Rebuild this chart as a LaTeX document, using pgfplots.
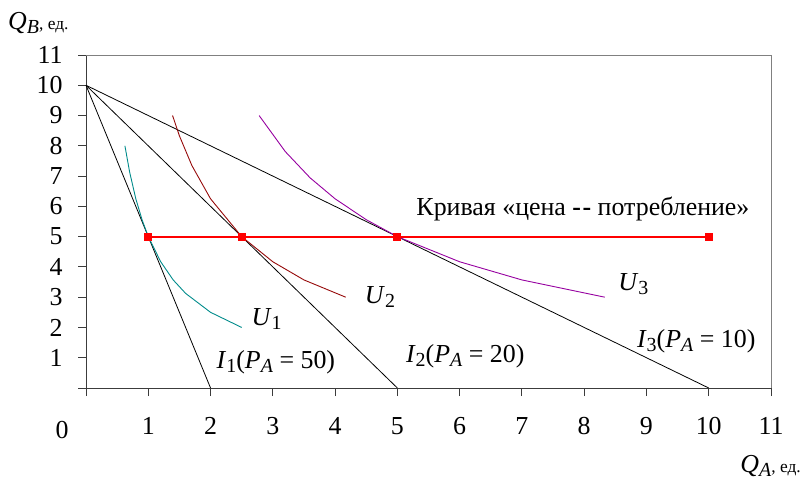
\documentclass[border=0pt]{standalone}
\usepackage{fontspec}
\setmainfont{Liberation Serif}
\usepackage{pgfplots}
\pgfplotsset{compat=1.18}

\definecolor{uone}{RGB}{0,139,139}
\definecolor{utwo}{RGB}{150,10,10}
\definecolor{uthree}{RGB}{150,0,160}
\definecolor{axdark}{RGB}{60,60,60}

\newcommand{\lblfont}{\fontsize{26}{28}\selectfont}
\newcommand{\sub}[1]{\raisebox{-4bp}{\fontsize{20}{20}\selectfont #1}}

\begin{document}
\begin{tikzpicture}
\begin{axis}[
    scale only axis,
    width=685bp, height=333bp,
    xmin=0, xmax=11, ymin=0, ymax=11,
    axis x line*=bottom, axis y line*=left,
    axis line style={axdark, line width=0.9pt, -},
    xtick={0,...,11}, ytick={0,...,11},
    xticklabels={{},1,2,3,4,5,6,7,8,9,10,11},
    yticklabels={{},1,2,3,4,5,6,7,8,9,10,11},
    tick align=outside,
    major tick length=8bp,
    tick style={axdark, line width=0.9pt},
    ticklabel style={font=\lblfont},
    xticklabel style={yshift=-18bp},
    yticklabel style={xshift=-12bp},
    /pgf/number format/assume math mode=true,
    clip=false,
]
% budget lines
\addplot[black, line width=0.8pt] coordinates {(0,10) (2,0)};
\addplot[black, line width=0.8pt] coordinates {(0,10) (5,0)};
\addplot[black, line width=0.8pt] coordinates {(0,10) (10,0)};

% indifference curves
\addplot[uone, line width=0.9pt] coordinates {
    (0.625,8) (0.7,7.14) (0.8,6.25) (0.9,5.56) (1,5) (1.2,4.17)
    (1.4,3.57) (1.6,3.125) (2,2.5) (2.5,2)
};
\addplot[utwo, line width=0.9pt] coordinates {
    (1.39,9) (1.5,8.33) (1.7,7.35) (2,6.25) (2.5,5) (3,4.17)
    (3.5,3.57) (4.17,3)
};
\addplot[uthree, line width=0.9pt] coordinates {
    (2.78,9) (3.2,7.81) (3.6,6.94) (4,6.25) (4.5,5.56) (5,5)
    (6,4.17) (7,3.57) (8.33,3)
};

% price-consumption curve
\addplot[red, line width=2pt, mark=square*, mark size=3bp,
    mark options={solid, fill=red}] coordinates {
    (1,5) (2.5,5) (5,5) (10,5)
};

% frame top and right
\draw[gray, line width=0.8pt] (rel axis cs:0,1) -- (rel axis cs:1,1) -- (rel axis cs:1,0);

% labels
\node[font=\lblfont] at (axis cs:2.9,2.28) {\textit{U}\sub{1}};
\node[font=\lblfont] at (axis cs:4.72,3.0) {\textit{U}\sub{2}};
\node[font=\lblfont] at (axis cs:8.79,3.44) {\textit{U}\sub{3}};
\node[font=\lblfont] at (axis cs:3.05,0.86) {\textit{I}\sub{1}(\textit{P}\sub{\textit{A}} = 50)};
\node[font=\lblfont] at (axis cs:6.09,1.06) {\textit{I}\sub{2}(\textit{P}\sub{\textit{A}} = 20)};
\node[font=\lblfont] at (axis cs:9.8,1.55) {\textit{I}\sub{3}(\textit{P}\sub{\textit{A}} = 10)};
\node[font=\lblfont] at (axis cs:7.98,5.9) {Кривая «цена \textbf{-}\kern1.5pt\textbf{-} потребление»};
\node[font=\lblfont] at (axis cs:-0.385,-1.39) {0};

\node[anchor=base west, inner sep=0pt] at ([xshift=-78bp, yshift=25bp]rel axis cs:0,1)
    {\lblfont\textit{Q}\sub{\textit{B}}\fontsize{17.5}{18}\selectfont, ед.};
\node[anchor=base east, inner sep=0pt] at ([xshift=30bp, yshift=-84bp]rel axis cs:1,0)
    {\lblfont\textit{Q}\sub{\textit{A}}\fontsize{17.5}{18}\selectfont, ед.};

\path ([xshift=-86bp, yshift=-92bp]rel axis cs:0,0) rectangle ([xshift=33bp, yshift=55bp]rel axis cs:1,1);
\end{axis}
\end{tikzpicture}
\end{document}
